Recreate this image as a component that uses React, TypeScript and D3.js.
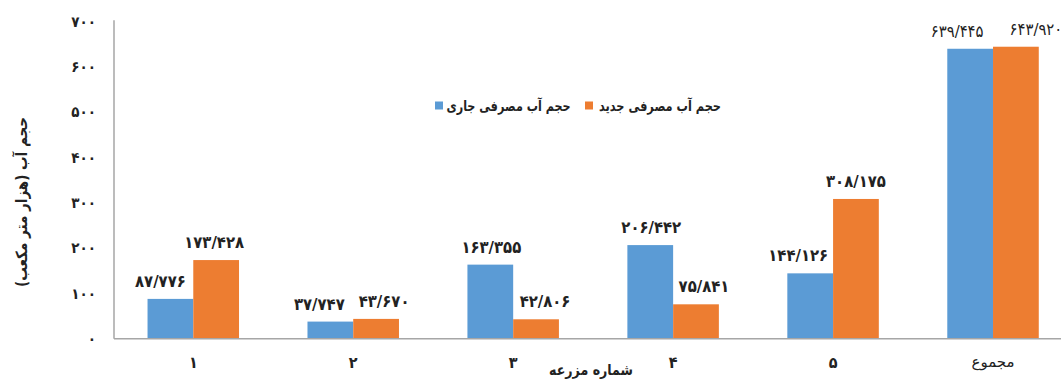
import React from "react";
import * as d3 from "d3";

// Farm numbers (last one is the total)
const categories: string[] = ["۱", "۲", "۳", "۴", "۵", "مجموع"];
// Current water use (thousand m³)
const currentUse: number[] = [87.776, 37.747, 163.355, 206.442, 144.126, 639.445];
// New water use (thousand m³)
const newUse: number[] = [173.428, 43.67, 42.806, 75.841, 308.175, 643.92];
const yTicks: number[] = [0, 100, 200, 300, 400, 500, 600, 700];

const seriesNames = ["حجم آب مصرفی جاری", "حجم آب مصرفی جدید"];
const colors = ["#5B9BD5", "#ED7D31"];

// Horizontal nudges of the value labels so neighbouring labels don't collide
const currentLabelShift = [-10, -11, 1, 1, -12, -13];
const newLabelShift = [-2, 8, 9, 8, 0, 20];

const W = 1061;
const H = 380;
const plotLeft = 113.3;
const plotRight = 1073;
const plotTop = 21.3;
const plotBottom = 338.7;

const faDigits = "۰۱۲۳۴۵۶۷۸۹";
const toFa = (s: string) => s.replace(/[0-9]/g, (d) => faDigits[+d]);
const fmtValue = (v: number) => toFa(v.toFixed(3).replace(".", "/"));

const FONT = "'DejaVu Sans', sans-serif";
const FONT_COND = "'DejaVu Sans Condensed', 'DejaVu Sans', sans-serif";

export default function App() {
  const x = d3
    .scaleBand<string>()
    .domain(categories)
    .range([plotLeft, plotRight])
    .paddingInner(0)
    .paddingOuter(0);
  const y = d3.scaleLinear().domain([0, 700]).range([plotBottom, plotTop]);
  const barW = x.bandwidth() * 0.286;

  const series = [currentUse, newUse];
  const shifts = [currentLabelShift, newLabelShift];

  return (
    <svg
      width={W}
      height={H}
      style={{ position: "absolute", left: 0, top: 0, background: "#fff" }}
      fontFamily={FONT}
    >
      {/* y tick labels */}
      {yTicks.map((t) => (
        <text
          key={t}
          x={96}
          y={y(t)}
          dy="0.35em"
          textAnchor="end"
          fontFamily={FONT_COND}
          fontSize={15}
          fontWeight="bold"
          fill="#222"
        >
          {toFa(String(t))}
        </text>
      ))}

      {/* bars */}
      {series.map((vals, si) =>
        vals.map((v, i) => {
          const cx = (x(categories[i]) as number) + x.bandwidth() / 2;
          const bx = si === 0 ? cx - barW : cx;
          return (
            <g key={`${si}-${i}`}>
              <rect
                x={bx}
                y={y(v)}
                width={barW}
                height={plotBottom - y(v)}
                fill={colors[si]}
              />
              <text
                x={bx + barW / 2 + shifts[si][i]}
                y={y(v) - 12}
                textAnchor="middle"
                fontFamily={FONT_COND}
                fontSize={16.5}
                fontWeight={i === 5 ? "normal" : "bold"}
                fill="#222"
              >
                {fmtValue(v)}
              </text>
            </g>
          );
        })
      )}

      {/* axes lines */}
      <line x1={114} x2={114} y1={plotTop - 1} y2={plotBottom} stroke="#A6A6A6" strokeWidth={1.5} />
      <line x1={114} x2={W} y1={plotBottom} y2={plotBottom} stroke="#A6A6A6" strokeWidth={1.5} />

      {/* x labels */}
      {categories.map((c) => (
        <text
          key={c}
          x={(x(c) as number) + x.bandwidth() / 2}
          y={362}
          dy="0.35em"
          textAnchor="middle"
          fontFamily={c === "مجموع" ? FONT : FONT_COND}
          fontSize={c === "مجموع" ? 15 : 16}
          fontWeight={c === "مجموع" ? "normal" : "bold"}
          fill="#222"
        >
          {c}
        </text>
      ))}

      {/* axis titles */}
      <text
        x={591}
        y={375}
        textAnchor="middle"
        fontSize={15}
        fontWeight="bold"
        fill="#222"
        textLength={84}
        lengthAdjust="spacingAndGlyphs"
      >
        شماره مزرعه
      </text>
      <text
        transform={`translate(22,202) rotate(-90)`}
        dy="0.35em"
        textAnchor="middle"
        fontSize={15.5}
        fontWeight="bold"
        fill="#222"
        textLength={170}
        lengthAdjust="spacingAndGlyphs"
      >
        حجم آب (هزار متر مکعب)
      </text>

      {/* legend */}
      <rect x={435} y={101.5} width={8} height={8} fill={colors[0]} />
      <text
        x={508.5}
        y={105.5}
        dy="0.35em"
        textAnchor="middle"
        fontSize={14.5}
        fontWeight="bold"
        fill="#222"
        direction="rtl"
        textLength={124}
        lengthAdjust="spacingAndGlyphs"
      >
        {seriesNames[0]}
      </text>
      <rect x={585} y={101.5} width={8} height={8} fill={colors[1]} />
      <text
        x={660}
        y={105.5}
        dy="0.35em"
        textAnchor="middle"
        fontSize={14.5}
        fontWeight="bold"
        fill="#222"
        direction="rtl"
        textLength={122}
        lengthAdjust="spacingAndGlyphs"
      >
        {seriesNames[1]}
      </text>
    </svg>
  );
}
